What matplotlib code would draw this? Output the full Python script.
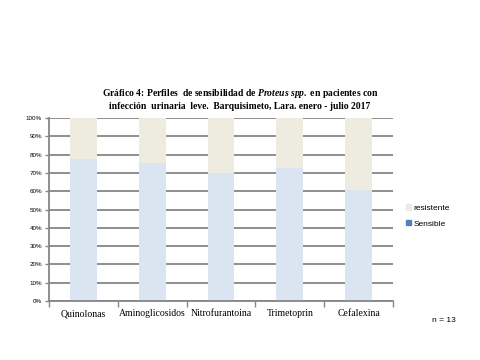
import matplotlib.pyplot as plt
import numpy as np
from matplotlib.patches import Patch

categorias = ["Quinolonas", "Aminoglicosidos", "Nitrofurantoina", "Trimetoprin", "Cefalexina"]
sensible = [77.8, 75.6, 69.8, 72.6, 60.6]
resistente = [100 - v for v in sensible]

c_sens = "#DBE5F1"
c_res = "#EEECE1"
c_grid = "#868686"

plt.rcParams["mathtext.fontset"] = "custom"
plt.rcParams["mathtext.it"] = "Liberation Serif:italic:bold"
plt.rcParams["mathtext.rm"] = "Liberation Serif:bold"

fig = plt.figure(figsize=(4.8, 3.6), dpi=100)
ax = fig.add_axes([0.102, 0.164, 0.717, 0.508])

x = np.arange(len(categorias))
ax.bar(x, sensible, width=0.39, color=c_sens, zorder=2)
ax.bar(x, resistente, width=0.39, bottom=sensible, color=c_res, zorder=2)

ax.set_xlim(-0.5, len(categorias) - 0.5)
ax.set_ylim(0, 100)
ax.set_yticks(np.arange(0, 101, 10))
ax.set_yticklabels([f"{v}%" for v in range(0, 101, 10)], fontsize=4.5,
                   family="Liberation Sans")
ax.yaxis.grid(True, color=c_grid, linewidth=1.3, zorder=1)

ax.set_xticks(x)
ax.set_xticklabels(categorias, fontsize=7, family="Liberation Serif")
ax.tick_params(axis="x", length=0, pad=6)
ax.set_xticks(np.arange(-0.5, len(categorias), 1), minor=True)
ax.tick_params(axis="x", which="minor", length=4, color=c_grid, width=1)
ax.tick_params(axis="y", length=3, color=c_grid, width=1, pad=2)

for s in ["top", "right"]:
    ax.spines[s].set_visible(False)
for s in ["left", "bottom"]:
    ax.spines[s].set_color(c_grid)
    ax.spines[s].set_linewidth(1.3)

fig.text(0.5, 0.725, "Gráfico 4: Perfiles  de sensibilidad de $\\it{Proteus\\ spp.}$ en pacientes con\n"
         "infección  urinaria  leve.  Barquisimeto, Lara. enero - julio 2017",
         ha="center", va="center", fontsize=6.9, fontweight="bold",
         family="Liberation Serif", linespacing=1.15)

handles = [Patch(color=c_res, label="resistente"), Patch(color="#4F81BD", label="Sensible")]
fig.legend(handles=handles, loc="center left", bbox_to_anchor=(0.83, 0.40),
           frameon=False, handlelength=0.6, handleheight=0.6,
           handletextpad=0.3, labelspacing=1.0, prop={"family": "Liberation Sans", "size": 6})

fig.text(0.925, 0.105, "n = 13", fontsize=6, family="Liberation Sans", ha="center")

fig.savefig("out.png", dpi=100)
